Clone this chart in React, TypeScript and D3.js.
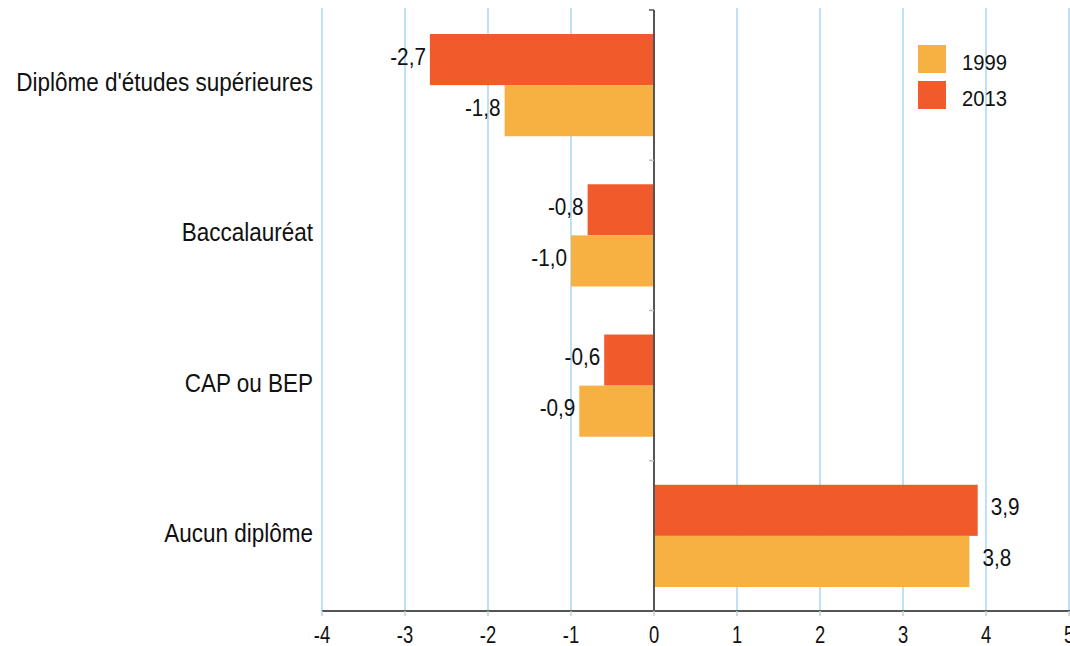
import React from "react";
import * as d3 from "d3";

const categories = ["Diplôme d'études supérieures", "Baccalauréat", "CAP ou BEP", "Aucun diplôme"];
const series = ["2013", "1999"];
const values2013 = [-2.7, -0.8, -0.6, 3.9];
const values1999 = [-1.8, -1.0, -0.9, 3.8];
const xTicks = [-4, -3, -2, -1, 0, 1, 2, 3, 4, 5];
const legendItems = ["1999", "2013"];

const colors: Record<string, string> = { "1999": "#F7B042", "2013": "#F15A2B" };
const FONT = "'Liberation Sans', Arial, sans-serif";

function SText(props: { x: number; y: number; sx: number; size: number; anchor?: string; children: React.ReactNode }) {
  const { x, y, sx, size, anchor, children } = props;
  return (
    <text
      transform={`translate(${x},${y}) scale(${sx},1)`}
      textAnchor={anchor || "start"}
      fontFamily={FONT}
      fontSize={size}
      fill="#111"
    >
      {children}
    </text>
  );
}

export default function App() {
  const W = 1070, H = 646;
  const x = d3.scaleLinear().domain([-4, 5]).range([322, 1069]);
  const y = d3.scaleBand<string>().domain(categories).range([10, 611]).padding(0);
  const inner = d3.scaleBand<string>().domain(series).range([0, y.bandwidth()]).paddingInner(0).paddingOuter(0.47);
  const fmt = (v: number) => d3.format(".1f")(v).replace(".", ",").replace("−", "-");
  const dataBy: Record<string, number[]> = { "2013": values2013, "1999": values1999 };
  const x0 = x(0);
  return (
    <svg width={W} height={H} style={{ position: "absolute", left: 0, top: 0, background: "#fff" }}>
      {xTicks.filter((t) => t !== 0).map((t) => (
        <line key={"g" + t} x1={x(t)} x2={x(t)} y1={8} y2={611} stroke="#a9d9f2" strokeWidth={1.5} />
      ))}
      {categories.map((c, i) =>
        series.map((s) => {
          const v = dataBy[s][i];
          const by = (y(c) as number) + (inner(s) as number);
          const bh = inner.bandwidth();
          const xa = Math.min(x(v), x0), xb = Math.max(x(v), x0);
          return (
            <g key={c + s}>
              <rect x={xa} y={by} width={xb - xa} height={bh} fill={colors[s]} />
              <SText
                x={v < 0 ? x(v) - 4 : x(v) + 13}
                y={by + bh / 2 + 5}
                sx={0.9}
                size={23}
                anchor={v < 0 ? "end" : "start"}
              >
                {fmt(v)}
              </SText>
            </g>
          );
        })
      )}
      {/* vertical axis */}
      <line x1={x0} x2={x0} y1={10} y2={611} stroke="#555" strokeWidth={2} />
      <line x1={x0 - 5} x2={x0} y1={10} y2={10} stroke="#555" strokeWidth={1.5} />
      {categories.slice(1).map((c) => (
        <line key={"t" + c} x1={x0 - 5} x2={x0} y1={y(c) as number} y2={y(c) as number} stroke="#bbb" strokeWidth={1.5} />
      ))}
      {categories.map((c) => (
        <SText key={"l" + c} x={313} y={(y(c) as number) + y.bandwidth() / 2 + 6} sx={0.9} size={25} anchor="end">
          {c}
        </SText>
      ))}
      {/* bottom axis */}
      <line x1={322} x2={1070} y1={611} y2={611} stroke="#555" strokeWidth={2} />
      {xTicks.map((t) => (
        <g key={"x" + t}>
          <line x1={x(t)} x2={x(t)} y1={611} y2={616} stroke="#ccc" strokeWidth={1.5} />
          <SText x={x(t)} y={643} sx={0.8} size={23} anchor="middle">
            {t}
          </SText>
        </g>
      ))}
      {/* legend */}
      {legendItems.map((s, i) => (
        <g key={"lg" + s}>
          <rect x={918} y={45 + i * 36} width={28} height={28} fill={colors[s]} />
          <SText x={962} y={70 + i * 36} sx={0.92} size={22}>
            {s}
          </SText>
        </g>
      ))}
    </svg>
  );
}
